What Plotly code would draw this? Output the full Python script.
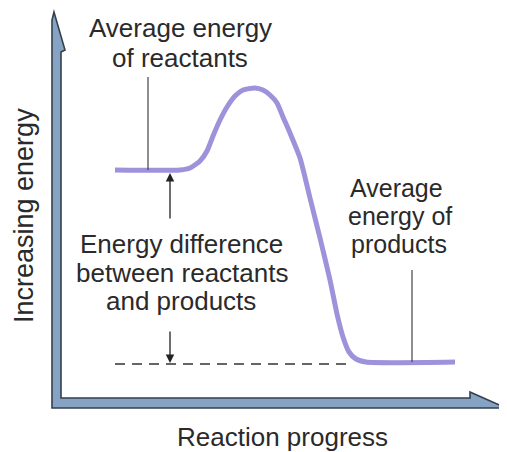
import plotly.graph_objects as go

# Reaction energy profile (units: progress / energy, origin at the axes corner)
progress = [58, 123, 133, 143, 150, 156, 163, 170, 178, 186, 198, 206, 213, 220, 226, 233,
            243, 253, 263, 273, 280, 286, 292, 299, 309, 398]
energy = [235, 235, 237, 244, 254, 269, 285, 298, 309, 315, 317, 315, 310, 302, 288, 272,
          247, 207, 167, 125, 91, 68, 53, 46, 43, 43]

reactant_level = 235
product_level = 43
dashed_level = 41
dashed_start, dashed_end = 58, 293
reactant_marker_x = 91
product_marker_x = 355
diff_arrow_x = 113

# (text, x, y, font size)
labels = [
    ("Average energy", 123, 377, 26),
    ("of reactants", 123, 347, 26),
    ("Energy difference", 124, 161, 26),
    ("between reactants", 125, 132, 26),
    ("and products", 124, 104, 26),
    ("Average", 339, 217, 25),
    ("energy of", 343, 189, 25),
    ("products", 342, 161, 25),
]
x_title = ("Reaction progress", 225, -32)
y_title = ("Increasing energy", -33, 189)

FONT = "Liberation Sans, Arial, sans-serif"
TXT = "#2a2a2a"

fig = go.Figure()
fig.add_trace(go.Scatter(
    x=progress, y=energy, mode="lines",
    line=dict(color="#9d93da", width=5, shape="spline", smoothing=0.6),
    hoverinfo="skip", showlegend=False,
))

shapes = []
# axes drawn as one L-shaped arrow path
axis_path = "M -3 393 L -5 385 L -5 -3 L 449 -3 L 413 13 L 413 7 L 4 7 L 4 353 L 8 355 Z"
shapes.append(dict(type="path", xref="x", yref="y", path=axis_path,
                   fillcolor="#87a3c4", line=dict(color="#34404e", width=1.6), layer="below"))
# dashed product level line
shapes.append(dict(type="line", xref="x", yref="y", x0=dashed_start, x1=dashed_end,
                   y0=dashed_level, y1=dashed_level,
                   line=dict(color="#333333", width=1.4, dash="10px,7px")))
# label pointer lines
shapes.append(dict(type="line", xref="x", yref="y", x0=reactant_marker_x, x1=reactant_marker_x,
                   y0=reactant_level, y1=328, line=dict(color="#444444", width=1.2)))
shapes.append(dict(type="line", xref="x", yref="y", x0=product_marker_x, x1=product_marker_x,
                   y0=product_level, y1=135, line=dict(color="#444444", width=1.2)))

annotations = []
for t, x, y, s in labels:
    annotations.append(dict(text=t, x=x, y=y, xref="x", yref="y", showarrow=False,
                            xanchor="center", yanchor="middle", borderpad=0,
                            font=dict(family=FONT, size=s, color=TXT)))
annotations.append(dict(text=x_title[0], x=x_title[1], y=x_title[2], xref="x", yref="y",
                        showarrow=False, xanchor="center", yanchor="middle", borderpad=0,
                        font=dict(family=FONT, size=26, color=TXT)))
annotations.append(dict(text=y_title[0], x=y_title[1], y=y_title[2], xref="x", yref="y",
                        showarrow=False, xanchor="center", yanchor="middle", textangle=-90,
                        borderpad=0, font=dict(family=FONT, size=27, color=TXT)))
# energy difference arrows
annotations.append(dict(text="", x=diff_arrow_x, y=reactant_level - 3, ax=diff_arrow_x, ay=185,
                        xref="x", yref="y", axref="x", ayref="y", showarrow=True,
                        arrowhead=2, arrowsize=1.3, arrowwidth=1.3, arrowcolor="#222222",
                        standoff=0, startstandoff=0))
annotations.append(dict(text="", x=diff_arrow_x, y=dashed_level + 1, ax=diff_arrow_x, ay=75,
                        xref="x", yref="y", axref="x", ayref="y", showarrow=True,
                        arrowhead=2, arrowsize=1.3, arrowwidth=1.3, arrowcolor="#222222",
                        standoff=0, startstandoff=0))

# the page body adds an 8px offset; ranges are shifted so the drawing lands in place
fig.update_layout(
    width=507, height=452,
    margin=dict(l=0, r=0, t=0, b=0),
    paper_bgcolor="white", plot_bgcolor="white",
    xaxis=dict(range=[-49, 458], visible=False, fixedrange=True),
    yaxis=dict(range=[-55, 397], visible=False, fixedrange=True),
    shapes=shapes, annotations=annotations,
    showlegend=False,
)
fig.write_html("out.html")
